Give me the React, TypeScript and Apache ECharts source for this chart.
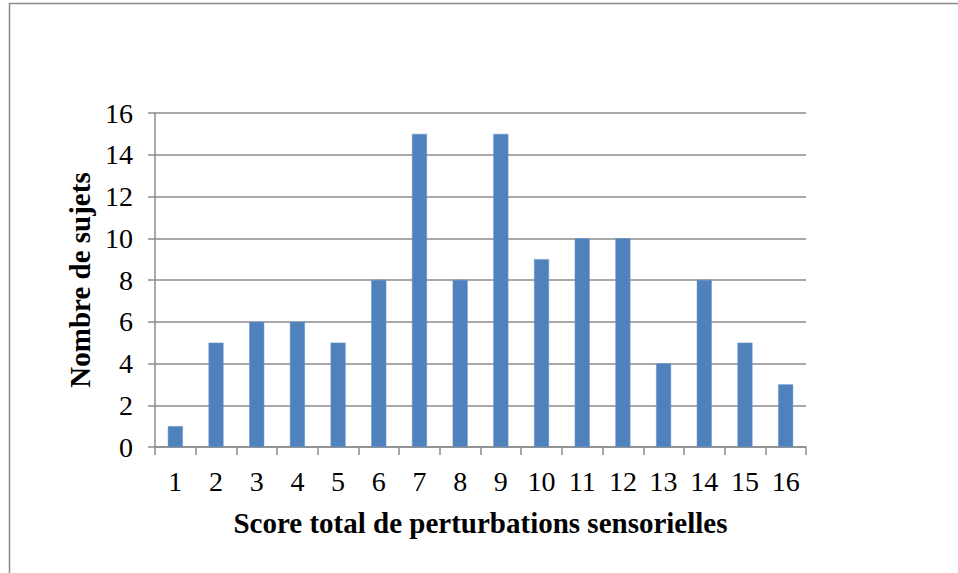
import React, { useEffect, useRef } from "react";
import * as echarts from "echarts";

const categories = ["1", "2", "3", "4", "5", "6", "7", "8", "9", "10", "11", "12", "13", "14", "15", "16"];
const counts = [1, 5, 6, 6, 5, 8, 15, 8, 15, 9, 10, 10, 4, 8, 5, 3];
const xTitle = "Score total de perturbations sensorielles";
const yTitle = "Nombre de sujets";

const FONT = "'Liberation Serif', 'Times New Roman', serif";
const GRAY = "#8c8c8c";

export default function App() {
  const ref = useRef<HTMLDivElement>(null);
  useEffect(() => {
    if (!ref.current) return;
    const chart = echarts.init(ref.current, null, { renderer: "svg" });
    chart.setOption({
      animation: false,
      backgroundColor: "#ffffff",
      graphic: [
        {
          type: "rect",
          shape: { x: 9.5, y: 3.5, width: 1000, height: 700 },
          style: { fill: "none", stroke: "#8a8a8a", lineWidth: 1.5 },
          silent: true,
        },
      ],
      grid: { left: 155, right: 152, top: 113, bottom: 126 },
      xAxis: {
        type: "category",
        data: categories,
        name: xTitle,
        nameLocation: "middle",
        nameGap: 61,
        nameTextStyle: { fontFamily: FONT, fontSize: 29, fontWeight: "bold", color: "#000" },
        axisLine: { lineStyle: { color: GRAY, width: 1.5 } },
        axisTick: { show: true, alignWithLabel: false, length: 8, lineStyle: { color: GRAY, width: 1.5 } },
        axisLabel: { fontFamily: FONT, fontSize: 28, color: "#000", margin: 20, interval: 0 },
      },
      yAxis: {
        type: "value",
        min: 0,
        max: 16,
        interval: 2,
        name: yTitle,
        nameLocation: "middle",
        nameGap: 60,
        nameRotate: 90,
        nameTextStyle: { fontFamily: FONT, fontSize: 29, fontWeight: "bold", color: "#000" },
        axisLine: { show: true, lineStyle: { color: GRAY, width: 1.5 } },
        axisTick: { show: true, length: 7, lineStyle: { color: GRAY, width: 1.5 } },
        axisLabel: { fontFamily: FONT, fontSize: 28, color: "#000", margin: 22 },
        splitLine: { show: true, lineStyle: { color: GRAY, width: 1.5 } },
      },
      series: [
        {
          type: "bar",
          data: counts,
          barWidth: 15,
          itemStyle: { color: "#4f81bd", borderColor: "#6b95c8", borderWidth: 0.5 },
        },
      ],
    });
    return () => chart.dispose();
  }, []);
  return (
    <div
      ref={ref}
      style={{ position: "fixed", left: 0, top: 0, width: 958, height: 573, background: "#fff" }}
    />
  );
}
